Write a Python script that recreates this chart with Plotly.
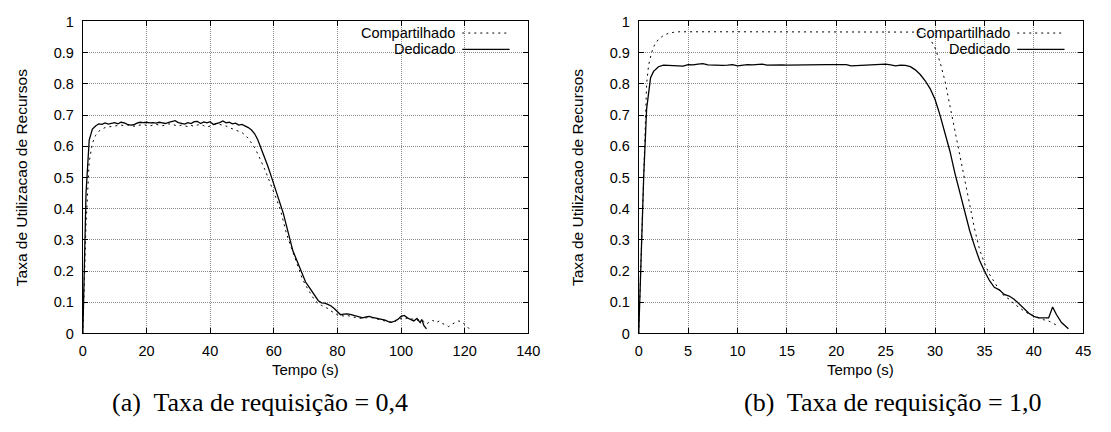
import plotly.graph_objects as go

W, H = 1111, 432

# ---------------- data: panel (a) Taxa de requisição = 0,4 ----------------
a_ded_x = list(range(0, 107)) + [106.5, 107.2, 108]
a_ded_y = [0.0, 0.45, 0.62, 0.655, 0.665, 0.672, 0.670, 0.675, 0.671, 0.673,
           0.676, 0.672, 0.677, 0.675, 0.670, 0.668, 0.669, 0.674, 0.677, 0.676,
           0.677, 0.675, 0.676, 0.674, 0.677, 0.675, 0.673, 0.677, 0.679, 0.682,
           0.676, 0.674, 0.671, 0.676, 0.673, 0.679, 0.680, 0.673, 0.678, 0.675,
           0.679, 0.670, 0.672, 0.676, 0.681, 0.675, 0.677, 0.672, 0.674, 0.668,
           0.670, 0.665, 0.660, 0.652, 0.640, 0.620, 0.595, 0.568, 0.540, 0.510,
           0.480, 0.450, 0.420, 0.385, 0.345, 0.300, 0.265, 0.240, 0.215, 0.190,
           0.165, 0.150, 0.135, 0.120, 0.105, 0.098, 0.097, 0.093, 0.088, 0.080,
           0.070, 0.060, 0.062, 0.063, 0.061, 0.058, 0.055, 0.052, 0.050, 0.053,
           0.055, 0.052, 0.050, 0.048, 0.046, 0.043, 0.038, 0.036, 0.040, 0.045,
           0.055, 0.058, 0.050, 0.045, 0.040, 0.048, 0.035, 0.045, 0.025, 0.015]

a_com_x = list(range(0, 123))
a_com_y = [0.0, 0.35, 0.55, 0.61, 0.635, 0.648, 0.655, 0.660, 0.662, 0.664,
           0.665, 0.667, 0.668, 0.666, 0.668, 0.667, 0.664, 0.666, 0.668, 0.670,
           0.667, 0.665, 0.668, 0.670, 0.668, 0.666, 0.668, 0.672, 0.670, 0.667,
           0.665, 0.668, 0.666, 0.663, 0.667, 0.664, 0.668, 0.670, 0.666, 0.662,
           0.665, 0.668, 0.672, 0.670, 0.668, 0.665, 0.660, 0.656, 0.652, 0.648,
           0.644, 0.636, 0.625, 0.610, 0.595, 0.575, 0.555, 0.530, 0.505, 0.480,
           0.455, 0.430, 0.400, 0.360, 0.320, 0.290, 0.260, 0.230, 0.200, 0.175,
           0.155, 0.135, 0.120, 0.105, 0.095, 0.090, 0.085, 0.080, 0.072, 0.066,
           0.060, 0.058, 0.056, 0.058, 0.055, 0.052, 0.050, 0.049, 0.048, 0.050,
           0.052, 0.050, 0.047, 0.045, 0.043, 0.040, 0.038, 0.035, 0.038, 0.042,
           0.048, 0.045, 0.050, 0.048, 0.045, 0.042, 0.045, 0.040, 0.030, 0.038,
           0.042, 0.035, 0.040, 0.032, 0.028, 0.022, 0.030, 0.035, 0.040, 0.038,
           0.030, 0.020, 0.008]

# ---------------- data: panel (b) Taxa de requisição = 1,0 ----------------
b_ded_x = [0, 0.5, 0.8, 1.0, 1.2, 1.5, 2.0, 2.5, 3, 3.5, 4, 4.5, 5, 5.5, 6, 6.5,
           7, 7.5, 8, 8.5, 9, 9.5, 10, 10.5, 11, 11.5, 12, 12.5, 13, 13.5, 14,
           14.5, 15, 16, 17, 18, 19, 20, 21, 21.5, 22, 23, 24, 24.5, 25, 25.5,
           26, 26.5, 27, 27.5, 28, 28.5, 29, 29.5, 30, 30.5, 31, 31.5, 32, 32.5,
           33, 33.5, 34, 34.5, 35, 35.5, 36, 36.5, 37, 37.5, 38, 38.5, 39, 39.5,
           40, 40.5, 41, 41.5, 41.9, 42.3, 42.8, 43.5]
b_ded_y = [0.0, 0.50, 0.72, 0.78, 0.82, 0.84, 0.855, 0.860, 0.859, 0.858, 0.859,
           0.857, 0.862, 0.861, 0.863, 0.865, 0.861, 0.860, 0.860, 0.859, 0.860,
           0.862, 0.858, 0.860, 0.862, 0.861, 0.862, 0.863, 0.860, 0.861, 0.862,
           0.861, 0.860, 0.861, 0.860, 0.861, 0.862, 0.862, 0.862, 0.858, 0.859,
           0.861, 0.862, 0.864, 0.863, 0.861, 0.858, 0.860, 0.859, 0.855, 0.845,
           0.830, 0.810, 0.785, 0.750, 0.700, 0.645, 0.585, 0.515, 0.455, 0.395,
           0.330, 0.280, 0.235, 0.200, 0.170, 0.148, 0.140, 0.125, 0.120, 0.110,
           0.095, 0.080, 0.065, 0.055, 0.050, 0.050, 0.050, 0.085, 0.060, 0.035,
           0.015]

b_com_x = [0, 0.5, 0.8, 1.0, 1.3, 1.6, 2.0, 2.5, 3.0, 3.5, 4.0, 10, 20, 28,
           28.5, 29, 29.5, 30, 30.5, 31, 31.5, 32, 32.5, 33, 33.5, 34, 34.5, 35,
           35.5, 36, 36.5, 37, 37.5, 38, 38.5, 39, 39.5, 40, 40.5, 41, 41.5, 42,
           42.4]
b_com_y = [0.0, 0.55, 0.80, 0.86, 0.90, 0.925, 0.943, 0.955, 0.962, 0.965,
           0.967, 0.967, 0.967, 0.967, 0.966, 0.960, 0.945, 0.915, 0.870, 0.810,
           0.730, 0.645, 0.570, 0.490, 0.410, 0.335, 0.270, 0.225, 0.190, 0.165,
           0.140, 0.120, 0.110, 0.095, 0.082, 0.072, 0.063, 0.056, 0.050, 0.044,
           0.040, 0.032, 0.025]

series_names = ["Compartilhado", "Dedicado"]
y_title = "Taxa de Utilizacao de Recursos"
x_title = "Tempo (s)"
captions = ["(a)  Taxa de requisição = 0,4", "(b)  Taxa de requisição = 1,0"]

# ---------------- layout geometry (pixels) ----------------
PX = [(80, 532), (644, 1095)]
PY_TOP, PY_BOT = 14, 338

def px(x):
    return x / W

def py(y):
    return 1 - y / H

SANS = "Liberation Sans, Arial, Helvetica, sans-serif"
SERIF = "Liberation Serif, Times New Roman, serif"
DOT = "2px,4px"

fig = go.Figure()

panels = [(a_com_x, a_com_y, a_ded_x, a_ded_y, 140, 20, ""),
          (b_com_x, b_com_y, b_ded_x, b_ded_y, 45, 5, "2")]

for i, (cx, cy, dx, dy, xmax, dt, sfx) in enumerate(panels):
    xa, ya = "x" + sfx, "y" + sfx
    fig.add_trace(go.Scatter(x=cx, y=cy, mode="lines", xaxis=xa, yaxis=ya,
                             line=dict(color="black", width=1, dash=DOT),
                             name=series_names[0], showlegend=False))
    fig.add_trace(go.Scatter(x=dx, y=dy, mode="lines", xaxis=xa, yaxis=ya,
                             line=dict(color="black", width=1.3),
                             name=series_names[1], showlegend=False))
    x0, x1 = PX[i]
    common = dict(ticks="inside", ticklen=5, tickcolor="black", showline=True,
                  linecolor="black", linewidth=1, mirror="ticks", showgrid=True,
                  gridcolor="#8a8a8a", griddash="1px,1px", gridwidth=1,
                  zeroline=False, tickfont=dict(family=SANS, size=14.5, color="black"))
    fig.layout["xaxis" + sfx] = dict(domain=[px(x0), px(x1)], range=[0, xmax], dtick=dt,
                                     anchor=ya, ticklabelstandoff=4, **common)
    fig.layout["yaxis" + sfx] = dict(domain=[py(PY_BOT), py(PY_TOP)], range=[0, 1],
                                     dtick=0.1, anchor=xa, ticklabelstandoff=5, **common)

    # legend occluder (hides grid behind key, like gnuplot)
    fig.add_shape(type="rect", xref="paper", yref="paper", layer="between",
                  x0=px(x0 + 0.569 * (x1 - x0)), x1=px(x1 - 9),
                  y0=py(52), y1=py(PY_TOP + 1), fillcolor="white", line_width=0)

    # key: text right-aligned, sample to the right
    text_right = x1 - 72
    s0, s1 = x1 - 67, x1 - 19
    for k, (yk, dash) in enumerate([(26, DOT), (43, "solid")]):
        fig.add_annotation(x=px(text_right), y=py(yk), xref="paper", yref="paper",
                           text=series_names[k], showarrow=False, xanchor="right",
                           yanchor="middle", font=dict(family=SANS, size=14.5, color="black"))
        fig.add_shape(type="line", xref="paper", yref="paper", layer="above",
                      x0=px(s0), x1=px(s1), y0=py(yk), y1=py(yk),
                      line=dict(color="black", width=1.3 if dash == "solid" else 1, dash=dash))

    # axis titles
    fig.add_annotation(x=px((x0 + x1) / 2), y=py(375), xref="paper", yref="paper",
                       text=x_title, showarrow=False, xanchor="center", yanchor="middle",
                       font=dict(family=SANS, size=15, color="black"))
    fig.add_annotation(x=px(x0 - 62), y=py((PY_TOP + PY_BOT) / 2), xref="paper", yref="paper",
                       text=y_title, showarrow=False, textangle=-90, xanchor="center",
                       yanchor="middle", font=dict(family=SANS, size=15.5, color="black"))

fig.add_annotation(x=px(260), y=py(410), xref="paper", yref="paper", text=captions[0],
                   showarrow=False, xanchor="center", yanchor="middle",
                   font=dict(family=SERIF, size=26, color="black"))
fig.add_annotation(x=px(902), y=py(410), xref="paper", yref="paper", text=captions[1],
                   showarrow=False, xanchor="center", yanchor="middle",
                   font=dict(family=SERIF, size=26, color="black"))

fig.update_layout(width=W, height=H, margin=dict(l=0, r=0, t=0, b=0),
                  paper_bgcolor="white", plot_bgcolor="white", showlegend=False)

fig.write_html("out.html", config={"displayModeBar": False},
               post_script="document.body.style.margin='0';document.documentElement.style.margin='0';")
